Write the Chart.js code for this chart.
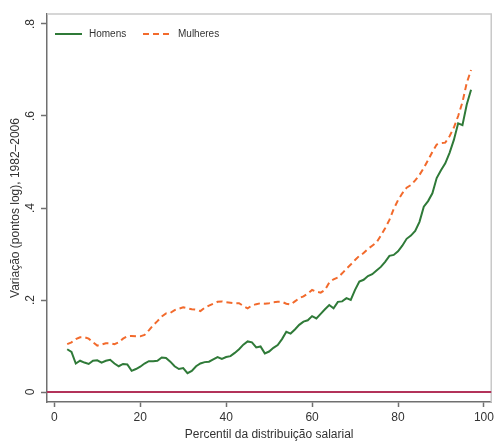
<html lang="pt">
<head>
<meta charset="utf-8">
<script src="https://cdn.jsdelivr.net/npm/chart.js"></script>
<style>
    html, body { margin: 0; background: white; }
    #wrap { width: 497px; height: 441px; }
</style>
</head>
<body>
<div id="wrap"><canvas id="chart" width="497" height="441"></canvas></div>
<script>

    // percentis 3..97
    const percentis = [3, 4, 5, 6, 7, 8, 9, 10, 11, 12, 13, 14, 15, 16, 17, 18, 19, 20, 21, 22,
        23, 24, 25, 26, 27, 28, 29, 30, 31, 32, 33, 34, 35, 36, 37, 38, 39, 40, 41, 42,
        43, 44, 45, 46, 47, 48, 49, 50, 51, 52, 53, 54, 55, 56, 57, 58, 59, 60, 61, 62,
        63, 64, 65, 66, 67, 68, 69, 70, 71, 72, 73, 74, 75, 76, 77, 78, 79, 80, 81, 82,
        83, 84, 85, 86, 87, 88, 89, 90, 91, 92, 93, 94, 95, 96, 97];

    const homens = [.093, .087, .062, .068, .064, .061, .068, .069, .064, .068,
        .070, .062, .056, .061, .060, .046, .050, .055, .062, .067,
        .067, .068, .075, .074, .066, .056, .050, .052, .041, .046,
        .056, .062, .065, .066, .071, .076, .072, .076, .078, .085,
        .093, .103, .110, .108, .097, .099, .084, .088, .096, .102,
        .115, .131, .127, .136, .146, .153, .156, .165, .160, .170,
        .180, .189, .182, .196, .197, .204, .200, .222, .240, .244,
        .252, .256, .264, .272, .283, .296, .298, .306, .318, .333,
        .340, .350, .370, .403, .415, .432, .465, .482, .497, .520,
        .548, .584, .580, .625, .657];

    const mulheres = [.104, .108, .115, .119, .119, .116, .108, .101, .103, .106,
        .106, .104, .108, .116, .121, .122, .121, .121, .124, .134,
        .145, .154, .164, .171, .172, .178, .181, .184, .182, .180,
        .179, .176, .183, .188, .192, .196, .197, .195, .194, .193,
        .193, .187, .182, .188, .191, .193, .192, .193, .195, .196,
        .196, .192, .190, .197, .204, .208, .214, .222, .218, .216,
        .222, .238, .245, .249, .258, .268, .277, .287, .296, .302,
        .311, .318, .325, .340, .356, .374, .398, .417, .432, .444,
        .450, .460, .472, .487, .504, .522, .538, .541, .542, .556,
        .575, .600, .630, .672, .700];

    const xTicks = [0, 20, 40, 60, 80, 100];
    const yTicks = [0, .2, .4, .6, .8];
    const yTickLabels = ["0", ".2", ".4", ".6", ".8"];

    const VERDE = "#2f7a38";
    const LARANJA = "#f26a2c";
    const font = "'Liberation Sans', Arial, Helvetica, sans-serif";

    function pares(ys) {
        return percentis.map((p, i) => ({ x: p, y: ys[i] }));
    }

    // moldura, linha do zero e legenda dentro do grafico
    const extras = {
        id: "extras",
        beforeDatasetsDraw(chart) {
            const c = chart.ctx, a = chart.chartArea;
            const y0 = chart.scales.y.getPixelForValue(0);
            c.save();
            c.strokeStyle = "#c9c9c9";
            c.lineWidth = 1.5;
            c.beginPath();
            c.moveTo(a.left, a.top);
            c.lineTo(a.right, a.top);
            c.lineTo(a.right, a.bottom);
            c.stroke();
            c.strokeStyle = "#b3335a";
            c.lineWidth = 2;
            c.beginPath();
            c.moveTo(a.left, y0);
            c.lineTo(a.right, y0);
            c.stroke();
            c.restore();
        },
        afterDraw(chart) {
            const c = chart.ctx, a = chart.chartArea;
            const ly = a.top + 20;
            c.save();
            c.lineWidth = 2;
            c.strokeStyle = VERDE;
            c.beginPath();
            c.moveTo(a.left + 8, ly);
            c.lineTo(a.left + 35, ly);
            c.stroke();
            c.strokeStyle = LARANJA;
            c.setLineDash([6, 4]);
            c.beginPath();
            c.moveTo(a.left + 96, ly);
            c.lineTo(a.left + 123, ly);
            c.stroke();
            c.setLineDash([]);
            c.fillStyle = "#333";
            c.font = "10px " + font;
            c.textBaseline = "middle";
            c.fillText("Homens", a.left + 42, ly);
            c.fillText("Mulheres", a.left + 131, ly);
            c.restore();
        }
    };

    const ctx = document.getElementById("chart");

    new Chart(ctx, {
        type: "line",
        data: {
            datasets: [
                {
                    label: "Homens",
                    data: pares(homens),
                    borderColor: VERDE,
                    borderWidth: 2,
                    pointRadius: 0,
                    tension: 0
                },
                {
                    label: "Mulheres",
                    data: pares(mulheres),
                    borderColor: LARANJA,
                    borderWidth: 2,
                    borderDash: [6, 4],
                    pointRadius: 0,
                    tension: 0
                }
            ]
        },
        options: {
            responsive: false,
            animation: false,
            layout: { padding: { top: 14, right: 3, left: 0, bottom: 0 } },
            plugins: {
                legend: { display: false },
                tooltip: { enabled: false }
            },
            scales: {
                x: {
                    type: "linear",
                    min: -1.7,
                    max: 101.7,
                    afterBuildTicks: s => { s.ticks = xTicks.map(v => ({ value: v })); },
                    afterFit: s => { s.height = 39; },
                    border: { display: true, color: "#707070", width: 1.5 },
                    grid: { drawOnChartArea: false, tickLength: 5, tickColor: "#707070", tickWidth: 1.5 },
                    ticks: {
                        padding: 3,
                        maxRotation: 0,
                        color: "#333",
                        font: { family: font, size: 12 },
                        callback: v => String(v)
                    },
                    title: {
                        display: true,
                        text: "Percentil da distribuição salarial",
                        color: "#333",
                        font: { family: font, size: 12, lineHeight: 1 },
                        padding: { top: 0, bottom: 0 }
                    }
                },
                y: {
                    min: -0.0217,
                    max: 0.8217,
                    afterBuildTicks: s => { s.ticks = yTicks.map(v => ({ value: v })); },
                    afterFit: s => { s.width = 47; },
                    border: { display: true, color: "#707070", width: 1.5 },
                    grid: { drawOnChartArea: false, tickLength: 6, tickColor: "#707070", tickWidth: 1.5 },
                    ticks: {
                        padding: 5,
                        minRotation: 90,
                        maxRotation: 90,
                        crossAlign: "center",
                        color: "#333",
                        font: { family: font, size: 12 },
                        callback: v => yTickLabels[yTicks.indexOf(v)]
                    },
                    title: {
                        display: true,
                        text: "Variação (pontos log), 1982–2006",
                        color: "#333",
                        font: { family: font, size: 12, lineHeight: 1 },
                        padding: { top: 10, bottom: 0 }
                    }
                }
            }
        },
        plugins: [extras]
    });

</script>
</body>
</html>
